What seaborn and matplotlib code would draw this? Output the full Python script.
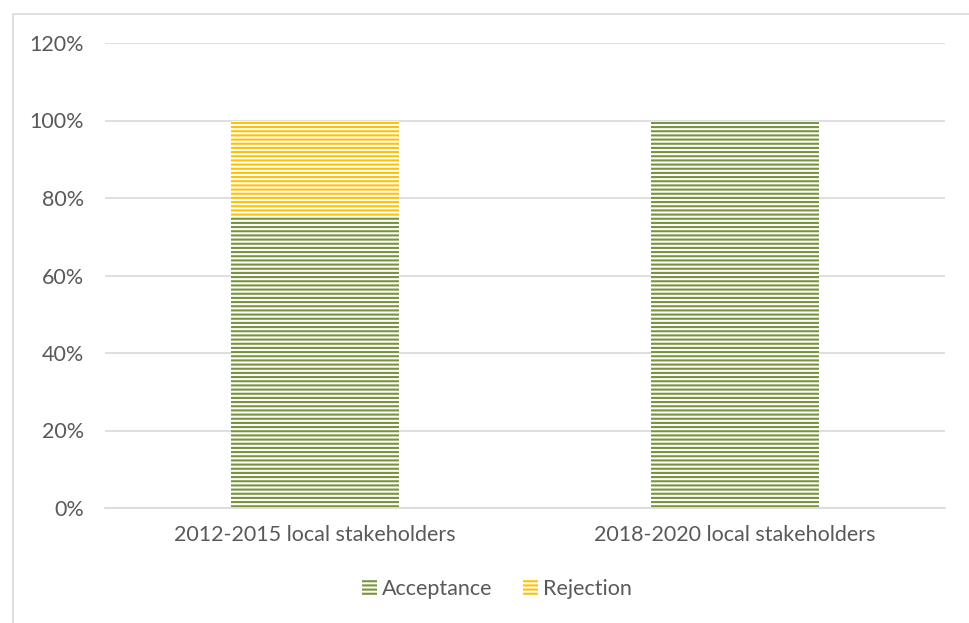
import matplotlib
matplotlib.use("Agg")
import matplotlib.pyplot as plt
import seaborn as sns
import pandas as pd
from matplotlib.patches import Rectangle, Patch

categories = ["2012-2015 local stakeholders", "2018-2020 local stakeholders"]
acceptance = [75, 100]
rejection = [25, 0]
yticks = [0, 20, 40, 60, 80, 100, 120]

sns.set_theme(style="white")
plt.rcParams['font.family'] = ['Lato', 'DejaVu Sans']
plt.rcParams['hatch.linewidth'] = 1.5

GREEN = "#77933C"
YELLOW = "#FFC000"
TXT = "#595959"
FS = 15.5

df = pd.DataFrame({"cat": categories, "acc": acceptance, "rej": rejection})
df["total"] = df["acc"] + df["rej"]

fig = plt.figure(figsize=(9.7, 6.23), dpi=100)
ax = fig.add_axes([105/970, 1-508/623, 840/970, 465/623])

sns.barplot(data=df, x="cat", y="total", ax=ax, color="white", width=0.4,
            saturation=1, edgecolor=YELLOW, linewidth=0, hatch="----")
sns.barplot(data=df, x="cat", y="acc", ax=ax, color="white", width=0.4,
            saturation=1, edgecolor=GREEN, linewidth=0, hatch="----")
for p in ax.patches:
    p.set_linewidth(0)

ax.set_ylim(0, 120)
ax.set_xlim(-0.5, 1.5)
ax.set_yticks(yticks)
ax.set_yticklabels([f"{v}%" for v in yticks])
ax.yaxis.grid(True, color="#D9D9D9", linewidth=1.2)
ax.set_axisbelow(True)
for s in ["top", "right", "left"]:
    ax.spines[s].set_visible(False)
ax.spines["bottom"].set_color("#D9D9D9")
ax.spines["bottom"].set_linewidth(1.2)
ax.tick_params(axis="both", length=0, labelsize=FS, colors=TXT)
ax.tick_params(axis="y", pad=15)
ax.tick_params(axis="x", pad=12)
ax.set_xlabel("")
ax.set_ylabel("")

handles = [Patch(facecolor="white", edgecolor=GREEN, hatch="----", linewidth=0, label="Acceptance"),
           Patch(facecolor="white", edgecolor=YELLOW, hatch="----", linewidth=0, label="Rejection")]
leg = fig.legend(handles=handles, loc="center", bbox_to_anchor=(497/970, 1-589/623), ncol=2,
                 frameon=False, fontsize=FS, handlelength=0.7, handleheight=0.7,
                 handletextpad=0.25, columnspacing=1.4)
for t in leg.get_texts():
    t.set_color(TXT)

fig.patches.append(Rectangle((13/970, -0.1), 1.2, 1-14/623+0.1, transform=fig.transFigure,
                             fill=False, edgecolor="#D9D9D9", linewidth=1.2))

fig.savefig("out.png", dpi=100)
